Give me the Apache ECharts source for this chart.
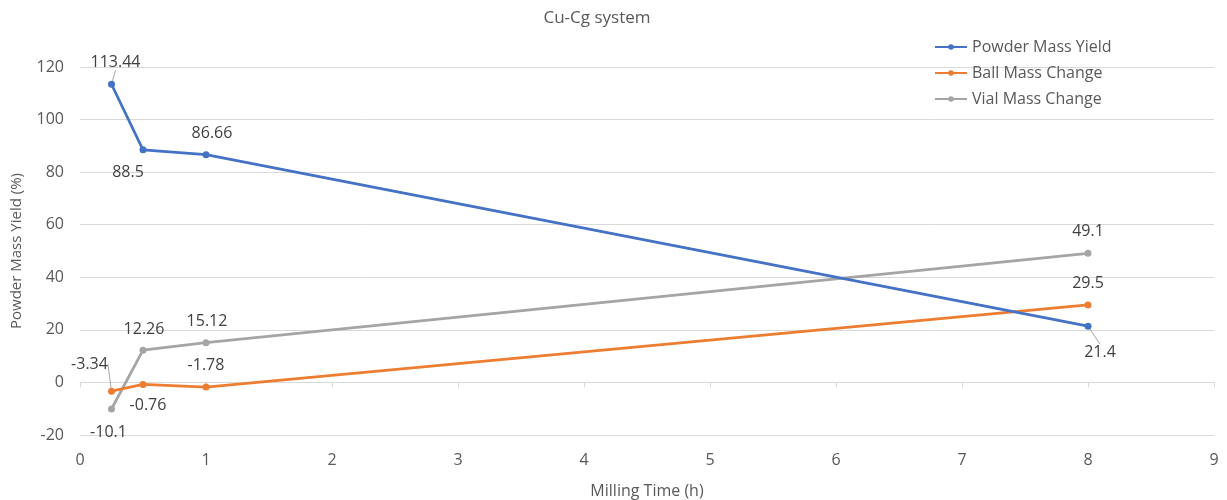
<!DOCTYPE html>
<html><head><meta charset="utf-8">
<script src="https://cdn.jsdelivr.net/npm/echarts@6/dist/echarts.min.js"></script>
<style>html,body{margin:0;padding:0;background:#fff}#c{width:1227px;height:500px}</style>
</head><body><div id="c"></div>
<script>
const millingTime = [0.25, 0.5, 1, 8];
const powderMassYield = [113.44, 88.5, 86.66, 21.4];
const ballMassChange = [-3.34, -0.76, -1.78, 29.5];
const vialMassChange = [-10.1, 12.26, 15.12, 49.1];
const seriesNames = ['Powder Mass Yield', 'Ball Mass Change', 'Vial Mass Change'];
const colors = ['#4472C4', '#ED7D31', '#A5A5A5'];

const FONT = 'Open Sans';
const FS = 16;
// label placement per point: [dx, dy] from the point to label centre
const labelOffsets = [
  [[4, -22], [-15, 23], [6, -21], [12, 26]],
  [[-22, -27], [5, 21], [0, -22], [0, -21]],
  [[-3, 23], [1, -21], [1, -21], [0, -22]]
];
const leader = [[true,false,false,true],[true,false,false,false],[false,false,false,false]];

function build(vals, si) {
  return vals.map((v, i) => ({
    value: [millingTime[i], v],
    label: {
      show: true, position: 'inside',
      formatter: String(v), color: '#404040', fontSize: FS, fontFamily: FONT
    },
    labelLine: { show: leader[si][i], lineStyle: { color: '#A6A6A6', width: 1 } }
  }));
}
const allVals = [powderMassYield, ballMassChange, vialMassChange];
const chart = echarts.init(document.getElementById('c'));
chart.setOption({
  animation: false,
  title: { text: 'Cu-Cg system', left: 592, top: 5, textAlign: 'center',
    textStyle: { fontSize: 17, fontWeight: 'normal', color: '#595959', fontFamily: FONT } },
  legend: { orient: 'vertical', left: 929, top: 34, itemGap: 10, itemWidth: 32, itemHeight: 7,
    textStyle: { fontSize: FS, color: '#595959', fontFamily: FONT }, data: seriesNames },
  grid: { left: 80, right: 13, top: 67, bottom: 65, containLabel: false, outerBoundsMode: 'none' },
  xAxis: [{
    type: 'value', min: 0, max: 9, interval: 1,
    name: 'Milling Time (h)', nameLocation: 'middle', nameGap: 48,
    nameTextStyle: { fontSize: FS, color: '#595959', fontFamily: FONT },
    axisLine: { show: false, onZero: false }, axisTick: { show: false },
    axisLabel: { margin: 17, fontSize: FS, color: '#595959', fontFamily: FONT },
    splitLine: { show: false }
  }, {
    type: 'value', min: 0, max: 9, interval: 1, position: 'top',
    axisLine: { show: true, onZero: true, lineStyle: { color: '#D9D9D9', width: 1 } },
    axisTick: { show: true, inside: true, length: 5, lineStyle: { color: '#D9D9D9' } },
    axisLabel: { show: false }, splitLine: { show: false }
  }],
  yAxis: {
    type: 'value', min: -20, max: 120, interval: 20,
    name: 'Powder Mass Yield (%)', nameLocation: 'middle', nameGap: 56,
    nameTextStyle: { fontSize: 15, color: '#595959', fontFamily: FONT },
    axisLine: { show: false }, axisTick: { show: false },
    axisLabel: { margin: 16, fontSize: FS, color: '#595959', fontFamily: FONT },
    splitLine: { lineStyle: { color: '#D9D9D9', width: 1 } }
  },
  series: allVals.map((vals, si) => ({
    name: seriesNames[si], type: 'line', xAxisIndex: 0,
    data: build(vals, si),
    symbol: 'circle', symbolSize: 7,
    lineStyle: { color: colors[si], width: 2.75 },
    itemStyle: { color: colors[si] },
    labelLayout: function (p) {
      const o = labelOffsets[si][p.dataIndex];
      return { dx: o[0], dy: o[1] };
    },
    z: 3 - si
  }))
});
</script></body></html>
